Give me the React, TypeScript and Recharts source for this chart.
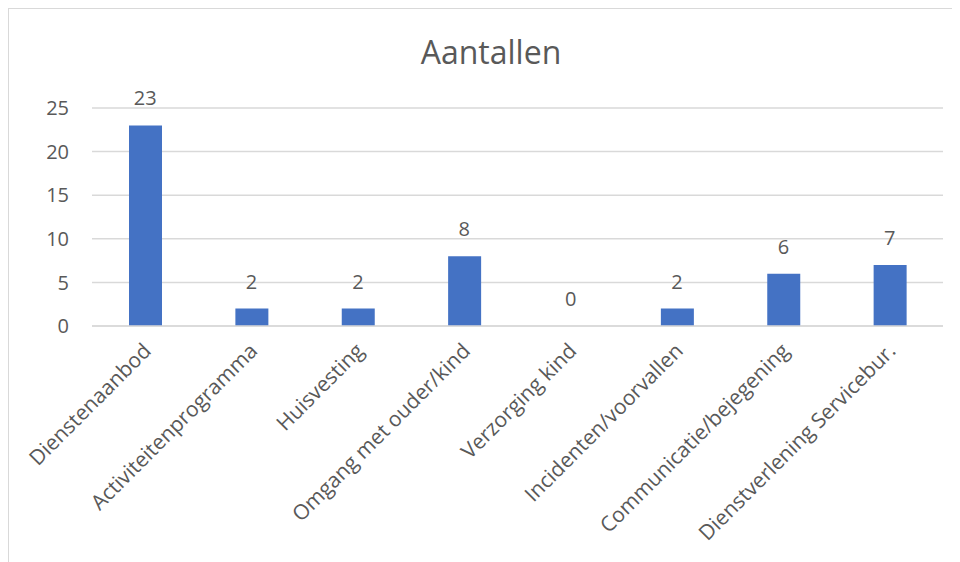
import { ComposedChart, Bar, Line, XAxis, YAxis, CartesianGrid, LabelList } from 'recharts';

const categories = [
  'Dienstenaanbod',
  'Activiteitenprogramma',
  'Huisvesting',
  'Omgang met ouder/kind',
  'Verzorging kind',
  'Incidenten/voorvallen',
  'Communicatie/bejegening',
  'Dienstverlening Servicebur.',
];
const counts = [23, 2, 2, 8, 0, 2, 6, 7];
const yTicks = [0, 5, 10, 15, 20, 25];

const data = categories.map((name, i) => ({ name, value: counts[i] }));

const FONT = '"Open Sans", sans-serif';
const TEXT = '#595959';

// rotated category label, ending just below the tick
const CategoryTick = (props: any) => {
  const { x, y, payload } = props;
  const tx = x + 2;
  const ty = y + 21;
  return (
    <text
      x={tx}
      y={ty}
      transform={`rotate(-45, ${tx}, ${ty})`}
      textAnchor="end"
      dy="0.35em"
      fill={TEXT}
      fontSize={21}
      fontFamily={FONT}
    >
      {payload.value}
    </text>
  );
};

export default function App() {
  return (
    <div
      style={{
        position: 'relative',
        width: 951,
        height: 553,
        borderLeft: '1px solid #d9d9d9',
        borderTop: '1px solid #d9d9d9',
        background: '#fff',
      }}
    >
      <div
        style={{
          position: 'absolute',
          top: 24,
          left: 0,
          width: 964,
          textAlign: 'center',
          fontFamily: FONT,
          fontSize: 32,
          color: TEXT,
          lineHeight: 1.2,
        }}
      >
        Aantallen
      </div>
      <ComposedChart
        width={951}
        height={553}
        data={data}
        margin={{ top: 99, right: 17, left: 23, bottom: 36 }}
      >
        <CartesianGrid vertical={false} stroke="#d9d9d9" strokeWidth={1.5} />
        <XAxis
          dataKey="name"
          interval={0}
          height={200}
          tickSize={0}
          tickMargin={0}
          tickLine={false}
          axisLine={{ stroke: '#d9d9d9', strokeWidth: 1.5 }}
          tick={<CategoryTick />}
        />
        <YAxis
          width={60}
          domain={[0, 25]}
          ticks={yTicks}
          tickSize={0}
          tickMargin={23}
          tickLine={false}
          axisLine={false}
          tick={{ fill: TEXT, fontSize: 20, fontFamily: FONT }}
        />
        <Bar dataKey="value" fill="#4472C4" barSize={33} isAnimationActive={false} />
        {/* invisible line only to carry the value labels (also shows the 0) */}
        <Line
          dataKey="value"
          stroke="none"
          dot={false}
          activeDot={false}
          isAnimationActive={false}
        >
          <LabelList
            dataKey="value"
            position="top"
            offset={20}
            fill={TEXT}
            fontSize={20}
            fontFamily={FONT}
          />
        </Line>
      </ComposedChart>
    </div>
  );
}
